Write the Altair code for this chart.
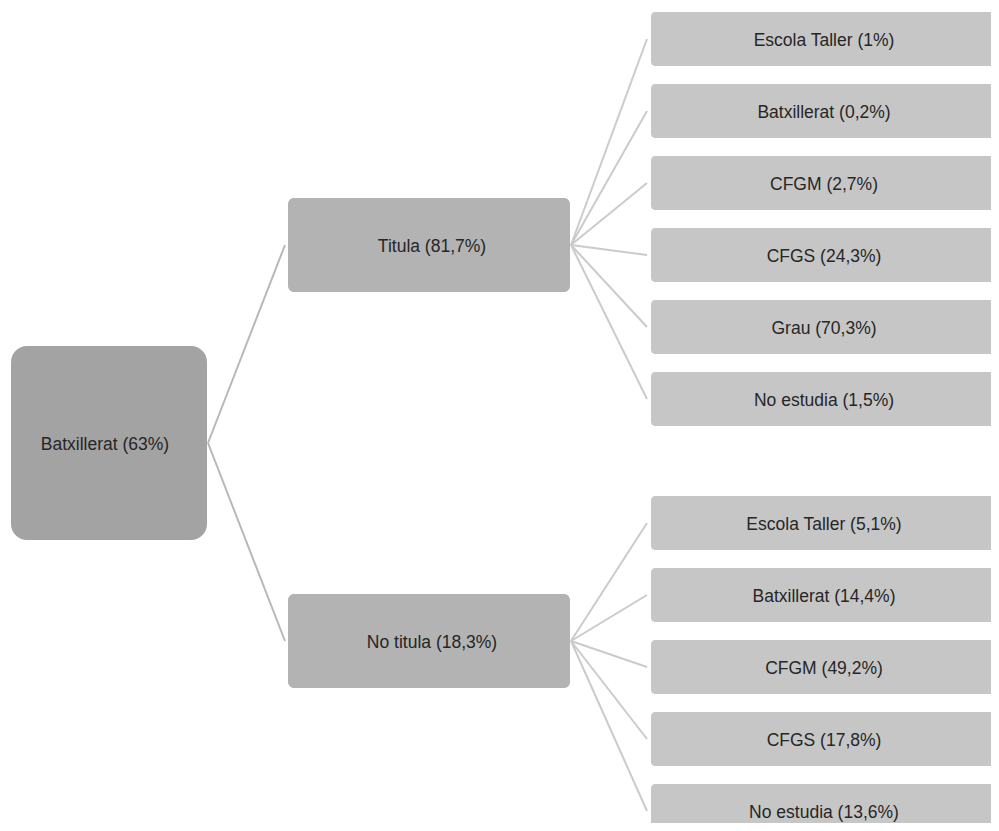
import altair as alt
import pandas as pd

# ---- data ----
root_label = "Batxillerat (63%)"
level2_labels = ["Titula (81,7%)", "No titula (18,3%)"]
titula_children = ["Escola Taller (1%)", "Batxillerat (0,2%)", "CFGM (2,7%)",
                   "CFGS (24,3%)", "Grau (70,3%)", "No estudia (1,5%)"]
no_titula_children = ["Escola Taller (5,1%)", "Batxillerat (14,4%)", "CFGM (49,2%)",
                      "CFGS (17,8%)", "No estudia (13,6%)"]

# ---- layout (pixel space of the plot area) ----
W, H = 983, 815
OFF = 8  # page margin
col_x = [(11, 207), (288, 570), (651, 1010)]
root_y = (346, 540)
l2_y = [(198, 292), (594, 688)]
leaf_h, leaf_step = 54, 72
group_top = [12, 496]
groups = [titula_children, no_titula_children]
leaf_text_cx = 824  # centre of the visible leaf box in the reference

nodes = []
nodes.append(dict(label=root_label, x=col_x[0][0], x2=col_x[0][1], y=root_y[0], y2=root_y[1], lvl=0,
                  cx=(col_x[0][0] + col_x[0][1]) / 2 - 4))
for i, lab in enumerate(level2_labels):
    nodes.append(dict(label=lab, x=col_x[1][0], x2=col_x[1][1], y=l2_y[i][0], y2=l2_y[i][1], lvl=1,
                      cx=(col_x[1][0] + col_x[1][1]) / 2 + 3))
for g, kids in enumerate(groups):
    for j, lab in enumerate(kids):
        t = group_top[g] + j * leaf_step
        nodes.append(dict(label=lab, x=col_x[2][0], x2=col_x[2][1], y=t, y2=t + leaf_h, lvl=2,
                          cx=leaf_text_cx))
nd = pd.DataFrame(nodes)
for c in ["x", "x2", "y", "y2", "cx"]:
    nd[c] = nd[c] - OFF
nd["cy"] = (nd["y"] + nd["y2"]) / 2

edges = []
rcx = col_x[0][1] + 1
rcy = (root_y[0] + root_y[1]) / 2
for i in range(2):
    edges.append(dict(x=rcx, y=rcy, x2=col_x[1][0] - 3, y2=(l2_y[i][0] + l2_y[i][1]) / 2, lvl=0))
for g, kids in enumerate(groups):
    px = col_x[1][1] + 1
    py = (l2_y[g][0] + l2_y[g][1]) / 2
    for j in range(len(kids)):
        t = group_top[g] + j * leaf_step
        edges.append(dict(x=px, y=py, x2=col_x[2][0] - 4, y2=t + leaf_h / 2, lvl=1))
ed = pd.DataFrame(edges)
for c in ["x", "x2", "y", "y2"]:
    ed[c] = ed[c] - OFF

xs = alt.Scale(domain=[0, W], range=[0, W], nice=False, zero=False)
ys = alt.Scale(domain=[0, H], range=[0, H], nice=False, zero=False)

lines = alt.Chart(ed).mark_rule(strokeWidth=2).encode(
    x=alt.X("x:Q", scale=xs, axis=None),
    y=alt.Y("y:Q", scale=ys, axis=None),
    x2="x2:Q", y2="y2:Q",
    color=alt.Color("lvl:N", scale=alt.Scale(domain=[0, 1], range=["#b8b8b8", "#cbcbcb"]), legend=None),
)

def boxes(lvl, color, radius):
    return alt.Chart(nd[nd.lvl == lvl]).mark_rect(color=color, cornerRadius=radius).encode(
        x=alt.X("x:Q", scale=xs, axis=None),
        y=alt.Y("y:Q", scale=ys, axis=None),
        x2="x2:Q", y2="y2:Q",
    )

texts = alt.Chart(nd).mark_text(font="Liberation Sans", fontSize=17.5, color="#262626", dy=2).encode(
    x=alt.X("cx:Q", scale=xs, axis=None),
    y=alt.Y("cy:Q", scale=ys, axis=None),
    text="label:N",
)

chart = alt.layer(
    lines,
    boxes(0, "#a3a3a3", 16),
    boxes(1, "#b3b3b3", 6),
    boxes(2, "#c6c6c6", 4),
    texts,
).properties(width=W, height=H, padding=0).configure_view(stroke=None, clip=True)

chart.save("out.html", embed_options={"renderer": "svg", "actions": False})
